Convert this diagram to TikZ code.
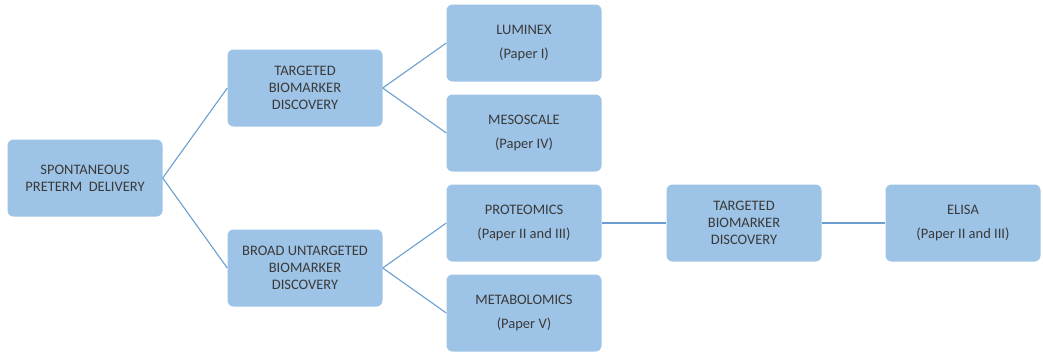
\documentclass[tikz,border=0pt]{standalone}
\usepackage{fontspec}
\setmainfont{Carlito}
\usetikzlibrary{positioning}
\definecolor{boxfill}{HTML}{9DC3E6}
\definecolor{linkblue}{HTML}{6A9FD0}
\definecolor{boxtext}{HTML}{3A3A3A}
\tikzstyle{box}=[rectangle,minimum width=155pt,minimum height=77pt,inner sep=2pt,rounded corners=6pt,fill=boxfill,text=boxtext,align=center,font=\fontsize{14.5}{17}\selectfont]
\tikzstyle{link}=[draw=linkblue,line width=1.1pt]

\begin{document}
\begin{tikzpicture}[x=1pt,y=-1pt]
\useasboundingbox (0,0) rectangle (1043,351);

\node (spd) [box] at (85,178) {SPONTANEOUS\\PRETERM\ \ DELIVERY};
\node (targeted) [box] at (305,88) {TARGETED\\BIOMARKER\\DISCOVERY};
\node (broad) [box] at (305,268) {BROAD UNTARGETED\\BIOMARKER\\DISCOVERY};
\node (luminex) [box] at (524,43) {LUMINEX\\[7pt](Paper I)};
\node (meso) [box] at (524,133) {MESOSCALE\\[7pt](Paper IV)};
\node (proteo) [box] at (524,223) {PROTEOMICS\\[7pt](Paper II and III)};
\node (metabo) [box] at (524,313) {METABOLOMICS\\[7pt](Paper V)};
\node (targeted2) [box] at (744,223) {TARGETED\\BIOMARKER\\DISCOVERY};
\node (elisa) [box] at (963,223) {ELISA\\[7pt](Paper II and III)};

\draw [link] (spd.east) -- (targeted.west);
\draw [link] (spd.east) -- (broad.west);
\draw [link] (targeted.east) -- (luminex.west);
\draw [link] (targeted.east) -- (meso.west);
\draw [link] (broad.east) -- (proteo.west);
\draw [link] (broad.east) -- (metabo.west);
\draw [link] (proteo) -- (targeted2);
\draw [link] (targeted2) -- (elisa);

\end{tikzpicture}
\end{document}
